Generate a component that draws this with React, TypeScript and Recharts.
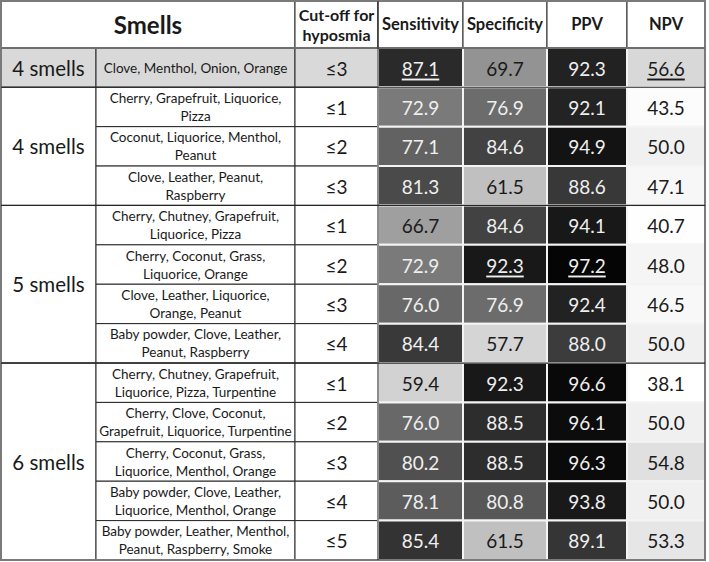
import React from "react";
import { ScatterChart, Scatter, XAxis, YAxis, ReferenceArea, ReferenceLine } from "recharts";

// table content
const GROUP_LABELS = ["4 smells", "4 smells", "5 smells", "6 smells"];
const GROUP_SIZES = [1, 3, 4, 5];

const SMELL_SETS = [
  ["Clove, Menthol, Onion, Orange"],
  ["Cherry, Grapefruit, Liquorice,", "Pizza"],
  ["Coconut, Liquorice, Menthol,", "Peanut"],
  ["Clove, Leather, Peanut,", "Raspberry"],
  ["Cherry, Chutney, Grapefruit,", "Liquorice, Pizza"],
  ["Cherry, Coconut, Grass,", "Liquorice, Orange"],
  ["Clove, Leather, Liquorice,", "Orange, Peanut"],
  ["Baby powder, Clove, Leather,", "Peanut, Raspberry"],
  ["Cherry, Chutney, Grapefruit,", "Liquorice, Pizza, Turpentine"],
  ["Cherry, Clove, Coconut,", "Grapefruit, Liquorice, Turpentine"],
  ["Cherry, Coconut, Grass,", "Liquorice, Menthol, Orange"],
  ["Baby powder, Clove, Leather,", "Liquorice, Menthol, Orange"],
  ["Baby powder, Leather, Menthol,", "Peanut, Raspberry, Smoke"],
];

const CUTOFFS = ["≤3", "≤1", "≤2", "≤3", "≤1", "≤2", "≤3", "≤4", "≤1", "≤2", "≤3", "≤4", "≤5"];

const METRICS = ["Sensitivity", "Specificity", "PPV", "NPV"];
const SENSITIVITY = [87.1, 72.9, 77.1, 81.3, 66.7, 72.9, 76.0, 84.4, 59.4, 76.0, 80.2, 78.1, 85.4];
const SPECIFICITY = [69.7, 76.9, 84.6, 61.5, 84.6, 92.3, 76.9, 57.7, 92.3, 88.5, 88.5, 80.8, 61.5];
const PPV = [92.3, 92.1, 94.9, 88.6, 94.1, 97.2, 92.4, 88.0, 96.6, 96.1, 96.3, 93.8, 89.1];
const NPV = [56.6, 43.5, 50.0, 47.1, 40.7, 48.0, 46.5, 50.0, 38.1, 50.0, 54.8, 50.0, 53.3];

// best values, underlined in the table: [metric, row]
const UNDERLINED: [string, number][] = [
  ["Sensitivity", 0],
  ["NPV", 0],
  ["Specificity", 5],
  ["PPV", 5],
];

// layout
const COL_WIDTHS = [95, 199, 83, 85, 84, 80, 78];
const COL_EDGES = COL_WIDTHS.reduce<number[]>((acc, w) => [...acc, acc[acc.length - 1] + w], [0]);
const TABLE_WIDTH = COL_EDGES[COL_EDGES.length - 1];
const HEADER_UNITS = 1.19;
const ROW_COUNT = CUTOFFS.length;
const FONT = "Lato, 'Open Sans', sans-serif";

const METRIC_VALUES: Record<string, number[]> = {
  Sensitivity: SENSITIVITY,
  Specificity: SPECIFICITY,
  PPV: PPV,
  NPV: NPV,
};

// grey ramp per column (light for the column min, dark for the max)
const SHADES: Record<string, { light: number; dark: number; gamma: number }> = {
  Sensitivity: { light: 210, dark: 42, gamma: 0.9 },
  Specificity: { light: 213, dark: 24, gamma: 1 },
  PPV: { light: 60, dark: 5, gamma: 1 },
  NPV: { light: 255, dark: 216, gamma: 2.2 },
};

const shadeOf = (metric: string, v: number) => {
  const vals = METRIC_VALUES[metric];
  const min = Math.min(...vals);
  const max = Math.max(...vals);
  const s = SHADES[metric];
  const t = Math.pow((v - min) / (max - min), s.gamma);
  return Math.round(s.light - (s.light - s.dark) * t);
};

const grey = (g: number) => `rgb(${g},${g},${g})`;
const colMid = (c: number, span = 1) => (COL_EDGES[c] + COL_EDGES[c + span]) / 2;

type TextPoint = {
  x: number;
  y: number;
  lines: string[];
  size: number;
  bold?: boolean;
  color?: string;
  underline?: boolean;
  lineGap?: number;
};

const groupStarts = GROUP_SIZES.map((_, i) => GROUP_SIZES.slice(0, i).reduce((a, b) => a + b, 0));

const textPoints: TextPoint[] = [
  { x: colMid(0, 2), y: -HEADER_UNITS / 2, lines: ["Smells"], size: 24, bold: true },
  { x: colMid(2), y: -HEADER_UNITS / 2, lines: ["Cut-off for", "hyposmia"], size: 16, bold: true, lineGap: 20 },
  ...METRICS.map((m, i) => ({ x: colMid(3 + i), y: -HEADER_UNITS / 2, lines: [m], size: 16.5, bold: true })),
  ...GROUP_LABELS.map((g, i) => ({
    x: colMid(0),
    y: groupStarts[i] + GROUP_SIZES[i] / 2,
    lines: [g],
    size: 20.5,
  })),
  ...SMELL_SETS.map((s, r) => ({ x: colMid(1), y: r + 0.5, lines: s, size: 13.5, lineGap: 18 })),
  ...CUTOFFS.map((c, r) => ({ x: colMid(2), y: r + 0.5, lines: [c], size: 19 })),
  ...METRICS.flatMap((m, i) =>
    METRIC_VALUES[m].map((v, r) => ({
      x: colMid(3 + i),
      y: r + 0.5,
      lines: [v.toFixed(1)],
      size: 19,
      color: shadeOf(m, v) < 128 ? "#efefef" : "#1a1a1a",
      underline: UNDERLINED.some(([um, ur]) => um === m && ur === r),
    }))
  ),
];

const CellText = (props: any) => {
  const { cx, cy, payload } = props;
  const p = payload as TextPoint;
  const gap = p.lineGap ?? p.size * 1.2;
  const top = cy - ((p.lines.length - 1) * gap) / 2;
  return (
    <text
      textAnchor="middle"
      dominantBaseline="central"
      fontFamily={FONT}
      fontSize={p.size}
      fontWeight={p.bold ? 700 : 400}
      fill={p.color ?? "#1a1a1a"}
      style={p.underline ? { textDecoration: "underline" } : undefined}
    >
      {p.lines.map((l, i) => (
        <tspan key={i} x={cx} y={top + i * gap}>
          {l}
        </tspan>
      ))}
    </text>
  );
};

export default function App() {
  const lineColor = "#262626";
  return (
    <div style={{ width: 709, height: 562, background: "#fff" }}>
      <style>{`body { margin: 0; }`}</style>
      <ScatterChart width={709} height={562} margin={{ top: 1, right: 4, bottom: 2, left: 1 }}>
        <XAxis type="number" dataKey="x" domain={[0, TABLE_WIDTH]} hide allowDataOverflow />
        <YAxis type="number" dataKey="y" domain={[-HEADER_UNITS, ROW_COUNT]} reversed hide allowDataOverflow />

        {/* header */}
        <ReferenceArea x1={COL_EDGES[0]} x2={COL_EDGES[2]} y1={-HEADER_UNITS} y2={0} fill="#fff" fillOpacity={1} stroke={lineColor} />
        {[2, 3, 4, 5, 6].map((c) => (
          <ReferenceArea
            key={`h${c}`}
            x1={COL_EDGES[c]}
            x2={COL_EDGES[c + 1]}
            y1={-HEADER_UNITS}
            y2={0}
            fill="#fff"
            fillOpacity={1}
            stroke={lineColor}
          />
        ))}

        {/* group cells */}
        {GROUP_SIZES.map((n, i) => (
          <ReferenceArea
            key={`g${i}`}
            x1={COL_EDGES[0]}
            x2={COL_EDGES[1]}
            y1={groupStarts[i]}
            y2={groupStarts[i] + n}
            fill={i === 0 ? "#d9d9d9" : "#fff"}
            fillOpacity={1}
            stroke={lineColor}
          />
        ))}

        {/* smells and cut-off cells */}
        {CUTOFFS.map((_, r) =>
          [1, 2].map((c) => (
            <ReferenceArea
              key={`s${r}-${c}`}
              x1={COL_EDGES[c]}
              x2={COL_EDGES[c + 1]}
              y1={r}
              y2={r + 1}
              fill={r === 0 ? "#d9d9d9" : "#fff"}
              fillOpacity={1}
              stroke={lineColor}
            />
          ))
        )}

        {/* heatmap cells */}
        {METRICS.flatMap((m, i) =>
          METRIC_VALUES[m].map((v, r) => (
            <ReferenceArea
              key={`v${m}-${r}`}
              x1={COL_EDGES[3 + i]}
              x2={COL_EDGES[4 + i]}
              y1={r}
              y2={r + 1}
              fill={grey(shadeOf(m, v))}
              fillOpacity={1}
              stroke="#f4f4f4"
              strokeWidth={2}
            />
          ))
        )}

        {/* group separators */}
        {groupStarts.slice(1).map((y) => (
          <ReferenceLine key={`gl${y}`} y={y} stroke={lineColor} strokeWidth={1.2} />
        ))}
        <ReferenceLine y={0} stroke="#6e6e6e" strokeWidth={2} />
        <ReferenceLine x={COL_EDGES[3]} stroke={lineColor} strokeWidth={1} />

        {/* outer border */}
        <ReferenceArea
          x1={0}
          x2={TABLE_WIDTH}
          y1={-HEADER_UNITS}
          y2={ROW_COUNT}
          fill="none"
          stroke="#7a7a7a"
          strokeWidth={2}
        />

        <Scatter data={textPoints} shape={CellText} isAnimationActive={false} />
      </ScatterChart>
    </div>
  );
}
